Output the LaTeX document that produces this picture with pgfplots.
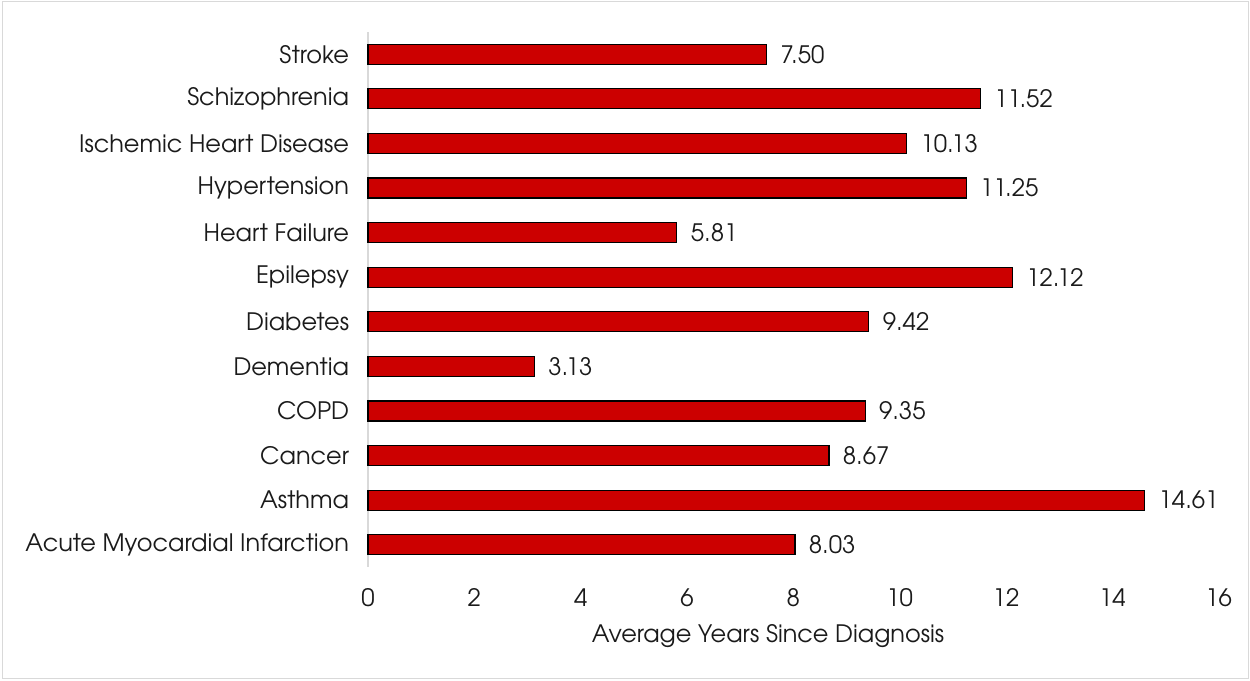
\documentclass[border=0pt]{standalone}
\usepackage{pgfplots}
\pgfplotsset{compat=1.18}
\usepackage{fontspec}
\setmainfont{TeX Gyre Adventor}
\definecolor{barred}{HTML}{CC0000}
\definecolor{axisgray}{HTML}{D9D9D9}
\definecolor{txt}{HTML}{1A1A1A}

\pgfplotstableread{
idx value
0 8.03
1 14.61
2 8.67
3 9.35
4 3.13
5 9.42
6 12.12
7 5.81
8 11.25
9 10.13
10 11.52
11 7.50
}\diagdata

\begin{document}
\begin{tikzpicture}[x=0.75pt,y=0.75pt]
  \fontsize{18}{21}\selectfont
  \path[use as bounding box] (0,0) rectangle (1250,681);
  \draw[axisgray, line width=0.75pt] (2,2) rectangle (1248,679);
  \begin{axis}[
    at={(368*0.75pt,114*0.75pt)}, anchor=south west,
    scale only axis, width=638pt, height=401.25pt,
    xbar, bar width=15pt,
    xmin=0, xmax=16, ymin=-0.5, ymax=11.5,
    xtick={0,2,...,16},
    ytick={0,...,11},
    yticklabels={Acute Myocardial Infarction, Asthma, Cancer, COPD, Dementia, Diabetes, Epilepsy, Heart Failure, Hypertension, Ischemic Heart Disease, Schizophrenia, Stroke},
    axis x line*=bottom, axis y line*=left,
    x axis line style={draw=none},
    y axis line style={axisgray, line width=1.2pt},
    major tick length=0pt,
    tick style={draw=none},
    xticklabel style={yshift=-10pt},
    yticklabel style={xshift=-8pt},
    ticklabel style={font=\fontsize{18}{21}\selectfont, text=txt},
    /pgf/number format/assume math mode=true,
    xlabel={Average Years Since Diagnosis},
    xlabel style={font=\fontsize{18}{21}\selectfont, text=txt, yshift=-1pt, xshift=-19pt},
    nodes near coords,
    nodes near coords style={font=\fontsize{18}{21}\selectfont, text=txt, xshift=4pt,
      /pgf/number format/.cd, fixed, fixed zerofill, precision=2},
    clip=false,
  ]
    \addplot[fill=barred, draw=black, line width=0.9pt] table[x=value, y=idx] {\diagdata};
  \end{axis}
\end{tikzpicture}
\end{document}
